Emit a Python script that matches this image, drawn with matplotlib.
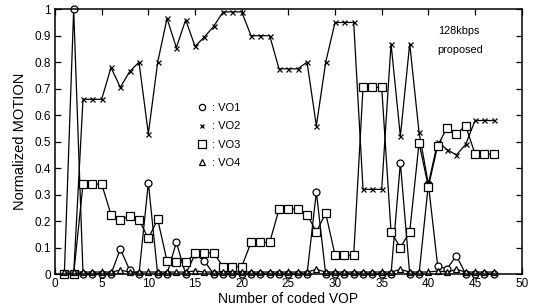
import matplotlib
matplotlib.use("Agg")
import matplotlib.pyplot as plt
import numpy as np

plt.rcParams['font.family'] = ['Liberation Sans', 'DejaVu Sans']

frames = list(range(1, 48))

vo1 = [0, 1.0, 0, 0, 0, 0, 0.095, 0.015, 0, 0.345,
       0, 0, 0.12, 0, 0.075, 0.05, 0, 0, 0, 0,
       0, 0, 0, 0, 0, 0, 0, 0.31, 0, 0,
       0, 0, 0, 0, 0, 0, 0.42, 0, 0, 0.34,
       0.03, 0.02, 0.07, 0, 0, 0, 0]

vo2 = [0, 0, 0.66, 0.66, 0.66, 0.78, 0.705, 0.765, 0.80, 0.53,
       0.80, 0.965, 0.855, 0.96, 0.86, 0.895, 0.935, 0.99, 0.99, 0.99,
       0.90, 0.90, 0.90, 0.775, 0.775, 0.775, 0.80, 0.56, 0.80, 0.95,
       0.95, 0.95, 0.32, 0.32, 0.32, 0.87, 0.52, 0.87, 0.535, 0.34,
       0.50, 0.47, 0.45, 0.49, 0.58, 0.58, 0.58]

vo3 = [0, 0, 0.34, 0.34, 0.34, 0.225, 0.205, 0.22, 0.205, 0.135,
       0.207, 0.05, 0.045, 0.045, 0.078, 0.08, 0.08, 0.028, 0.028, 0.028,
       0.12, 0.12, 0.12, 0.245, 0.245, 0.245, 0.225, 0.16, 0.23, 0.072,
       0.072, 0.072, 0.705, 0.705, 0.705, 0.16, 0.10, 0.16, 0.495, 0.33,
       0.485, 0.553, 0.53, 0.56, 0.453, 0.453, 0.453]

vo4 = [0.008, 0.008, 0.008, 0.008, 0.008, 0.008, 0.015, 0.008, 0.008, 0.008,
       0.008, 0.008, 0.008, 0.008, 0.012, 0.008, 0.008, 0.008, 0.008, 0.008,
       0.008, 0.008, 0.008, 0.008, 0.008, 0.008, 0.008, 0.018, 0.008, 0.008,
       0.008, 0.008, 0.008, 0.008, 0.008, 0.008, 0.018, 0.008, 0.008, 0.008,
       0.012, 0.008, 0.018, 0.008, 0.008, 0.008, 0.008]

series = [
    (vo1, 'o', 5.0, ': VO1'),
    (vo2, 'x', 3.6, ': VO2'),
    (vo3, 's', 6.2, ': VO3'),
    (vo4, '^', 5.0, ': VO4'),
]

fig = plt.figure(figsize=(5.34, 3.07), dpi=100)
ax = fig.add_axes([0.103, 0.107, 0.874, 0.863])

for vals, mk, ms, lab in series:
    ax.plot(frames, vals, color='black', lw=0.9, marker=mk, ms=ms,
            mfc='white' if mk != 'x' else 'black', mec='black', mew=0.9,
            label=lab, clip_on=False)

ax.set_xlim(0, 50)
ax.set_ylim(0, 1)
ax.set_xticks(np.arange(0, 51, 5))
ax.set_yticks(np.arange(0, 1.01, 0.1))
ax.set_yticklabels(['0', '0.1', '0.2', '0.3', '0.4', '0.5', '0.6', '0.7', '0.8', '0.9', '1'])
ax.tick_params(direction='in', top=True, right=True, length=4, width=0.9,
               labelsize=8.5, pad=3)
for sp in ax.spines.values():
    sp.set_linewidth(1.1)

ax.set_xlabel('Number of coded VOP', fontsize=10, labelpad=1)
ax.set_ylabel('Normalized MOTION', fontsize=10.5, labelpad=5)

ax.text(0.82, 0.905, '128kbps', transform=ax.transAxes, fontsize=7.8)
ax.text(0.82, 0.835, 'proposed', transform=ax.transAxes, fontsize=7.8)

leg = ax.legend(loc='upper left', bbox_to_anchor=(0.285, 0.675), frameon=False,
                fontsize=8, handlelength=1.2, handletextpad=0.3,
                labelspacing=0.75, borderpad=0.2, markerscale=0.9)
for h in leg.legend_handles:
    h.set_linestyle('None')

fig.savefig('out.png', dpi=100)
